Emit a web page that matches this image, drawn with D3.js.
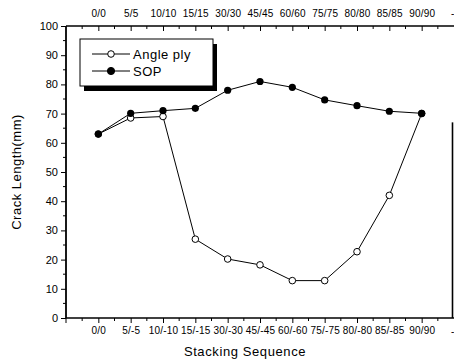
<!DOCTYPE html>
<html><head><meta charset="utf-8">
<script src="https://cdn.jsdelivr.net/npm/d3@7"></script>
<style>body{margin:0;background:#fff}svg{display:block}text{font-family:"Liberation Sans",Arial,sans-serif;fill:#000}</style>
</head><body><svg id="c" width="454" height="364"></svg>
<script>
const topLabels = ["0/0","5/5","10/10","15/15","30/30","45/45","60/60","75/75","80/80","85/85","90/90"];
const bottomLabels = ["0/0","5/-5","10/-10","15/-15","30/-30","45/-45","60/-60","75/-75","80/-80","85/-85","90/90"];
const anglePly = [63,68.5,69,27,20.2,18.2,12.8,12.8,22.7,42,70];
const sop = [63,70.1,71,71.8,78,81,79,74.7,72.7,70.8,70.1];
const yTicks = [0,10,20,30,40,50,60,70,80,90,100];

const svg = d3.select("#c");
const x = d3.scaleLinear().domain([-1,11]).range([66,454]);
const y = d3.scaleLinear().domain([0,100]).range([318,26]);
const idx = d3.range(topLabels.length);
const g = svg.append("g");

// frame
g.append("line").attr("x1",x(-1)).attr("x2",x(-1)).attr("y1",y(0)).attr("y2",y(100)).attr("stroke","#000").attr("stroke-width",1.8);
g.append("line").attr("x1",x(-1)).attr("x2",x(11)).attr("y1",y(0)).attr("y2",y(0)).attr("stroke","#000").attr("stroke-width",1.6);
g.append("line").attr("x1",x(-1)).attr("x2",x(11)).attr("y1",y(100)).attr("y2",y(100)).attr("stroke","#000").attr("stroke-width",1.6);
g.append("line").attr("x1",452.5).attr("x2",452.5).attr("y1",y(0)).attr("y2",y(67)).attr("stroke","#000").attr("stroke-width",1.6);

// bottom axis
const bAx = d3.axisBottom(x).tickValues(idx).tickSize(5).tickPadding(4).tickFormat(i=>bottomLabels[i]);
const bg = svg.append("g").attr("transform",`translate(0,${y(0)})`).call(bAx);
bg.select(".domain").remove();
bg.selectAll("text").attr("font-size","10px").attr("font-family","Liberation Sans, Arial").attr("fill","#000").attr("letter-spacing","0.2px");
const minorX = d3.range(-0.5,11,1);
svg.append("g").selectAll("line").data(minorX).join("line")
  .attr("x1",d=>x(d)).attr("x2",d=>x(d)).attr("y1",y(0)).attr("y2",y(0)+3).attr("stroke","#000");
svg.append("line").attr("x1",x(-1)).attr("x2",x(-1)).attr("y1",y(0)).attr("y2",y(0)+5).attr("stroke","#000");

// top axis
const tAx = d3.axisTop(x).tickValues(idx).tickSize(-5).tickPadding(9).tickFormat(i=>topLabels[i]);
const tg = svg.append("g").attr("transform",`translate(0,${y(100)})`).call(tAx);
tg.select(".domain").remove();
tg.selectAll("text").attr("font-size","10px").attr("font-family","Liberation Sans, Arial").attr("fill","#000").attr("letter-spacing","0.2px");
svg.append("g").selectAll("line").data(minorX).join("line")
  .attr("x1",d=>x(d)).attr("x2",d=>x(d)).attr("y1",y(100)).attr("y2",y(100)+3).attr("stroke","#000");
svg.append("text").attr("x",451).attr("y",y(100)-9).attr("font-size","10px").text("-");
svg.append("text").attr("x",451).attr("y",y(0)+17).attr("font-size","10px").text("-");

// left axis
const lAx = d3.axisLeft(y).tickValues(yTicks).tickSize(5).tickPadding(3);
const lg = svg.append("g").attr("transform",`translate(${x(-1)},0)`).call(lAx);
lg.select(".domain").remove();
lg.selectAll("text").attr("font-size","11px").attr("font-family","Liberation Sans, Arial").attr("fill","#000");
svg.append("g").selectAll("line").data(d3.range(5,100,5).filter(v=>v%10)).join("line")
  .attr("x1",x(-1)-3).attr("x2",x(-1)).attr("y1",d=>y(d)).attr("y2",d=>y(d)).attr("stroke","#000");

// titles
svg.append("text").attr("transform",`translate(21,${(y(0)+y(100))/2}) rotate(-90)`).attr("text-anchor","middle")
  .attr("font-size","13px").attr("letter-spacing","0.5px").text("Crack Length(mm)");
svg.append("text").attr("x",245).attr("y",356).attr("text-anchor","middle")
  .attr("font-size","13px").attr("letter-spacing","0.6px").text("Stacking Sequence");

// lines
const line = d3.line().x((d,i)=>x(i)).y(d=>y(d));
svg.append("path").datum(anglePly).attr("d",line).attr("fill","none").attr("stroke","#000").attr("stroke-width",1);
svg.append("path").datum(sop).attr("d",line).attr("fill","none").attr("stroke","#000").attr("stroke-width",1);
svg.append("g").selectAll("circle").data(anglePly).join("circle")
  .attr("cx",(d,i)=>x(i)).attr("cy",d=>y(d)).attr("r",3.3).attr("fill","#fff").attr("stroke","#000").attr("stroke-width",1);
svg.append("g").selectAll("circle").data(sop).join("circle")
  .attr("cx",(d,i)=>x(i)).attr("cy",d=>y(d)).attr("r",3.6).attr("fill","#000");

// legend
const lgX=80, lgY=39, lgW=133, lgH=47;
svg.append("rect").attr("x",lgX+4).attr("y",lgY+5).attr("width",lgW).attr("height",lgH).attr("fill","#000");
svg.append("rect").attr("x",lgX).attr("y",lgY).attr("width",lgW).attr("height",lgH).attr("fill","#fff").attr("stroke","#000").attr("stroke-width",1);
const items=[{name:"Angle ply",filled:false},{name:"SOP",filled:true}];
items.forEach((it,k)=>{
  const yy = lgY+15+k*17;
  svg.append("line").attr("x1",lgX+12).attr("x2",lgX+50).attr("y1",yy).attr("y2",yy).attr("stroke","#000");
  svg.append("circle").attr("cx",lgX+31).attr("cy",yy).attr("r",it.filled?3.6:3.3).attr("fill",it.filled?"#000":"#fff").attr("stroke","#000");
  svg.append("text").attr("x",lgX+53).attr("y",yy+4.5).attr("font-size","13px").attr("letter-spacing","0.5px").text(it.name);
});
</script></body></html>
